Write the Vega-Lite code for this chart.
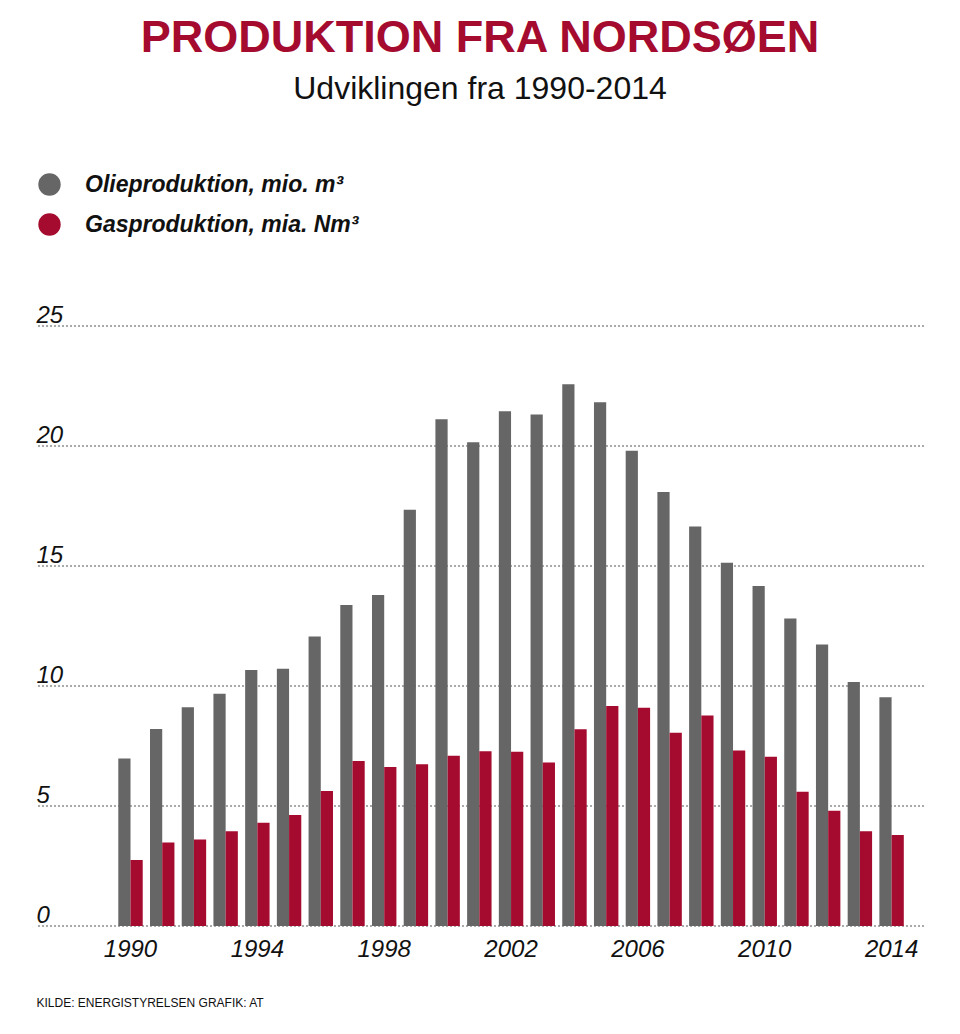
{
  "$schema": "https://vega.github.io/schema/vega-lite/v6.json",
  "width": 888,
  "height": 600,
  "autosize": {"type": "none"},
  "padding": {"left": 36, "top": 326, "right": 36, "bottom": 108},
  "background": "white",
  "title": {
    "text": "PRODUKTION FRA NORDSØEN",
    "subtitle": "Udviklingen fra 1990-2014",
    "anchor": "middle",
    "frame": "group",
    "font": "Liberation Sans",
    "fontSize": 45,
    "fontWeight": "bold",
    "color": "#A50B2E",
    "subtitleFont": "Liberation Sans",
    "subtitleFontSize": 32,
    "subtitleColor": "#111111",
    "subtitlePadding": 13,
    "offset": 68
  },
  "layer": [
    {
      "data": {"values": [{"tick": 0}, {"tick": 5}, {"tick": 10}, {"tick": 15}, {"tick": 20}, {"tick": 25}]},
      "mark": {"type": "rule", "color": "#8f8f8f", "strokeDash": [2, 2], "strokeWidth": 1.6},
      "encoding": {
        "y": {"field": "tick", "type": "quantitative"}
      }
    },
    {
      "data": {
        "values": [
          {"year": 1990, "serie": "Olieproduktion, mio. m³", "value": 6.98},
          {"year": 1991, "serie": "Olieproduktion, mio. m³", "value": 8.21},
          {"year": 1992, "serie": "Olieproduktion, mio. m³", "value": 9.11},
          {"year": 1993, "serie": "Olieproduktion, mio. m³", "value": 9.68},
          {"year": 1994, "serie": "Olieproduktion, mio. m³", "value": 10.67},
          {"year": 1995, "serie": "Olieproduktion, mio. m³", "value": 10.72},
          {"year": 1996, "serie": "Olieproduktion, mio. m³", "value": 12.06},
          {"year": 1997, "serie": "Olieproduktion, mio. m³", "value": 13.38},
          {"year": 1998, "serie": "Olieproduktion, mio. m³", "value": 13.79},
          {"year": 1999, "serie": "Olieproduktion, mio. m³", "value": 17.34},
          {"year": 2000, "serie": "Olieproduktion, mio. m³", "value": 21.11},
          {"year": 2001, "serie": "Olieproduktion, mio. m³", "value": 20.16},
          {"year": 2002, "serie": "Olieproduktion, mio. m³", "value": 21.45},
          {"year": 2003, "serie": "Olieproduktion, mio. m³", "value": 21.31},
          {"year": 2004, "serie": "Olieproduktion, mio. m³", "value": 22.57},
          {"year": 2005, "serie": "Olieproduktion, mio. m³", "value": 21.82},
          {"year": 2006, "serie": "Olieproduktion, mio. m³", "value": 19.80},
          {"year": 2007, "serie": "Olieproduktion, mio. m³", "value": 18.08},
          {"year": 2008, "serie": "Olieproduktion, mio. m³", "value": 16.65},
          {"year": 2009, "serie": "Olieproduktion, mio. m³", "value": 15.14},
          {"year": 2010, "serie": "Olieproduktion, mio. m³", "value": 14.17},
          {"year": 2011, "serie": "Olieproduktion, mio. m³", "value": 12.81},
          {"year": 2012, "serie": "Olieproduktion, mio. m³", "value": 11.73},
          {"year": 2013, "serie": "Olieproduktion, mio. m³", "value": 10.17},
          {"year": 2014, "serie": "Olieproduktion, mio. m³", "value": 9.53},
          {"year": 1990, "serie": "Gasproduktion, mia. Nm³", "value": 2.75},
          {"year": 1991, "serie": "Gasproduktion, mia. Nm³", "value": 3.48},
          {"year": 1992, "serie": "Gasproduktion, mia. Nm³", "value": 3.60},
          {"year": 1993, "serie": "Gasproduktion, mia. Nm³", "value": 3.95},
          {"year": 1994, "serie": "Gasproduktion, mia. Nm³", "value": 4.30},
          {"year": 1995, "serie": "Gasproduktion, mia. Nm³", "value": 4.62},
          {"year": 1996, "serie": "Gasproduktion, mia. Nm³", "value": 5.63},
          {"year": 1997, "serie": "Gasproduktion, mia. Nm³", "value": 6.88},
          {"year": 1998, "serie": "Gasproduktion, mia. Nm³", "value": 6.62},
          {"year": 1999, "serie": "Gasproduktion, mia. Nm³", "value": 6.74},
          {"year": 2000, "serie": "Gasproduktion, mia. Nm³", "value": 7.09},
          {"year": 2001, "serie": "Gasproduktion, mia. Nm³", "value": 7.28},
          {"year": 2002, "serie": "Gasproduktion, mia. Nm³", "value": 7.26},
          {"year": 2003, "serie": "Gasproduktion, mia. Nm³", "value": 6.81},
          {"year": 2004, "serie": "Gasproduktion, mia. Nm³", "value": 8.20},
          {"year": 2005, "serie": "Gasproduktion, mia. Nm³", "value": 9.17},
          {"year": 2006, "serie": "Gasproduktion, mia. Nm³", "value": 9.09},
          {"year": 2007, "serie": "Gasproduktion, mia. Nm³", "value": 8.05},
          {"year": 2008, "serie": "Gasproduktion, mia. Nm³", "value": 8.77},
          {"year": 2009, "serie": "Gasproduktion, mia. Nm³", "value": 7.31},
          {"year": 2010, "serie": "Gasproduktion, mia. Nm³", "value": 7.05},
          {"year": 2011, "serie": "Gasproduktion, mia. Nm³", "value": 5.59},
          {"year": 2012, "serie": "Gasproduktion, mia. Nm³", "value": 4.80},
          {"year": 2013, "serie": "Gasproduktion, mia. Nm³", "value": 3.95},
          {"year": 2014, "serie": "Gasproduktion, mia. Nm³", "value": 3.79}
        ]
      },
      "mark": {"type": "bar", "stroke": null},
      "encoding": {
        "x": {
          "field": "year",
          "type": "ordinal",
          "scale": {"range": [82.3, 867.8], "paddingInner": 0.23, "paddingOuter": 0, "round": false},
          "axis": {
            "values": [1990, 1994, 1998, 2002, 2006, 2010, 2014],
            "labelAngle": 0,
            "labelFont": "Liberation Sans",
            "labelFontStyle": "italic",
            "labelFontSize": 24,
            "labelColor": "#111111",
            "labelPadding": 11,
            "ticks": false,
            "domain": false,
            "grid": false,
            "title": "KILDE: ENERGISTYRELSEN  GRAFIK: AT",
            "titleFont": "Liberation Sans",
            "titleFontSize": 12,
            "titleFontWeight": "normal",
            "titleColor": "#111111",
            "titleAnchor": "start",
            "titleAlign": "left",
            "titleBaseline": "alphabetic",
            "titleX": 0,
            "titleY": 80
          }
        },
        "xOffset": {
          "field": "serie",
          "type": "nominal",
          "scale": {"domain": ["Olieproduktion, mio. m³", "Gasproduktion, mia. Nm³"], "paddingInner": 0, "paddingOuter": 0}
        },
        "y": {
          "field": "value",
          "type": "quantitative",
          "scale": {"domain": [0, 25], "nice": false, "zero": true},
          "axis": {
            "values": [0, 5, 10, 15, 20, 25],
            "title": null,
            "ticks": false,
            "tickSize": 0,
            "domain": false,
            "grid": false,
            "labelAlign": "left",
            "labelBaseline": "alphabetic",
            "labelPadding": 0,
            "labelOffset": -4,
            "labelFont": "Liberation Sans",
            "labelFontStyle": "italic",
            "labelFontSize": 24,
            "labelColor": "#111111",
            "labelOverlap": false,
            "labelFlush": false,
            "labelBound": false
          }
        },
        "color": {
          "field": "serie",
          "type": "nominal",
          "scale": {"domain": ["Olieproduktion, mio. m³", "Gasproduktion, mia. Nm³"], "range": ["#666666", "#A50B2E"]},
          "legend": {
            "title": null,
            "orient": "none",
            "legendX": 2,
            "legendY": -153,
            "direction": "vertical",
            "symbolType": "circle",
            "symbolSize": 500,
            "symbolStrokeWidth": 0,
            "labelFont": "Liberation Sans",
            "labelFontStyle": "italic",
            "labelFontWeight": "bold",
            "labelFontSize": 23,
            "labelColor": "#111111",
            "labelOffset": 24,
            "labelLimit": 0,
            "rowPadding": 16
          }
        }
      }
    }
  ],
  "config": {
    "view": {"stroke": null},
    "axis": {"labelFont": "Liberation Sans"}
  }
}
